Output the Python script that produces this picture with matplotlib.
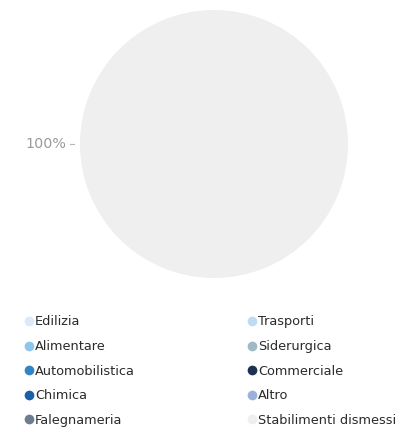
import numpy as np
import matplotlib
matplotlib.use("Agg")
import matplotlib.pyplot as plt
from matplotlib.lines import Line2D

plt.rcParams['font.family'] = ['DejaVu Sans']

categories = ["Edilizia", "Trasporti", "Alimentare", "Siderurgica",
              "Automobilistica", "Commerciale", "Chimica", "Altro",
              "Falegnameria", "Stabilimenti dismessi"]
shares = [0, 0, 0, 0, 0, 0, 0, 0, 0, 100]
colors = ["#dceaf7", "#bddcf4", "#8dc6ea", "#9fbac6",
          "#2f86c6", "#1c2f55", "#1b5fa5", "#9bb1dc",
          "#6f7b8e", "#efefef"]

W, H = 403, 432
fig = plt.figure(figsize=(W / 100, H / 100), dpi=100)
fig.patch.set_facecolor("white")

cx, cy, r = 214, 144, 134
ax = fig.add_axes([(cx - r) / W, (H - cy - r) / H, 2 * r / W, 2 * r / H])
wedges, _ = ax.pie(shares, colors=colors, startangle=0, radius=1.0,
                   wedgeprops=dict(linewidth=0))
ax.set_xlim(-1, 1)
ax.set_ylim(-1, 1)
ax.set_aspect("equal")
ax.axis("off")

total = sum(shares)
for w, v in zip(wedges, shares):
    if v <= 0:
        continue
    mid = np.deg2rad((w.theta1 + w.theta2) / 2)
    dx, dy = np.cos(mid), np.sin(mid)
    ax.plot([1.045 * dx, 1.075 * dx], [1.045 * dy, 1.075 * dy],
            color="#b5b5b5", lw=0.8, clip_on=False)
    ax.text(1.105 * dx, 1.105 * dy, f"{v / total * 100:.0f}%",
            ha="right" if dx < 0 else "left", va="center",
            fontsize=10.3, color="#9a9a9a", clip_on=False)

def handle(c):
    return Line2D([], [], marker="o", linestyle="none", markersize=7,
                  markerfacecolor=c, markeredgewidth=0)

left = list(range(0, len(categories), 2))
right = list(range(1, len(categories), 2))
kw = dict(frameon=False, fontsize=9.3, handletextpad=-0.15, labelspacing=0.9,
          borderpad=0, handlelength=1.2, loc="upper left",
          labelcolor="#2a2a2a")
fig.legend([handle(colors[i]) for i in left],
           [categories[i] for i in left],
           bbox_to_anchor=(15 / W, 1 - 309 / H), **kw)
fig.legend([handle(colors[i]) for i in right],
           [categories[i] for i in right],
           bbox_to_anchor=(238 / W, 1 - 309 / H), **kw)

fig.savefig("out.png", dpi=100, facecolor="white")
